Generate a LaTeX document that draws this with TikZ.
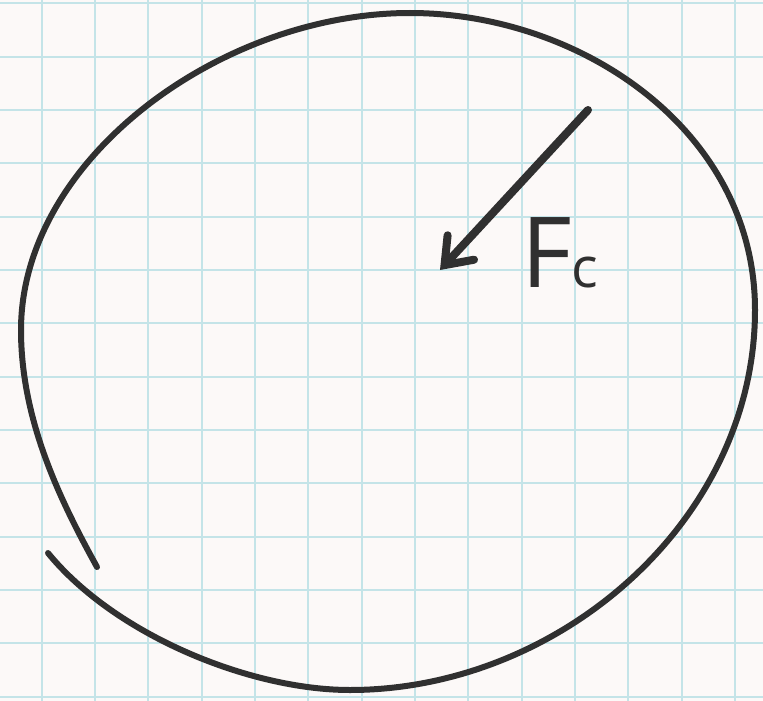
\documentclass[tikz,border=0pt]{standalone}
\usepackage{fontspec}
\setmainfont{Open Sans}
\usetikzlibrary{arrows.meta}
\definecolor{paper}{RGB}{252,249,248}
\definecolor{gridc}{RGB}{196,228,232}
\definecolor{ink}{RGB}{48,48,48}
\begin{document}
\begin{tikzpicture}[x=1pt,y=-1pt,
  gridline/.style={gridc, line width=1.8pt},
  inkline/.style={ink, line width=6pt, line cap=round, line join=round},
  forcearrow/.style={ink, line width=8pt, line cap=round,
    -{Straight Barb[length=24pt,width=36pt,line cap=round]}},
  labelstyle/.style={ink, inner sep=0pt, anchor=base west}]
\fill[paper] (0,0) rectangle (763,701);
\useasboundingbox (0,0) rectangle (763,701);
\foreach \i in {0,...,14} \draw[gridline] ({41.67+53.33*(\i-1)},0) -- ++(0,701);
\foreach \j in {0,...,13} \draw[gridline] (0,{3.33+53.33*\j}) -- ++(763,0);
% hand-drawn circle
\draw[inkline] (48,553)
  .. controls (115,635) and (250,690) .. (350,690)
  .. controls (560,690) and (755,520) .. (755,310)
  .. controls (755,130) and (580,13) .. (410,13)
  .. controls (220,13) and (21,160) .. (21,330)
  .. controls (21,420) and (60,500) .. (97,567);
% force arrow
\coordinate (tail) at (588,110);
\coordinate (tip) at (440,270);
\draw[forcearrow] (tail) -- (tip);
\node[labelstyle] (fc) at (521,287) {\fontsize{98}{100}\selectfont F{\fontsize{56}{60}\selectfont c}};
\end{tikzpicture}
\end{document}
